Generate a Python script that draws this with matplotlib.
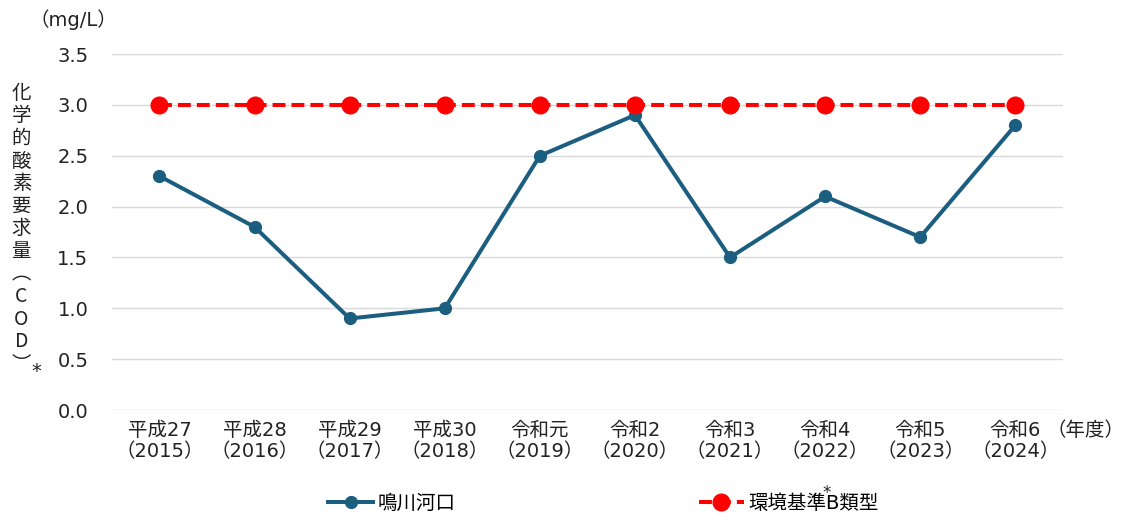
import numpy as np
import matplotlib
matplotlib.use('Agg')
import matplotlib.pyplot as plt

plt.rcParams['font.family'] = ['DejaVu Sans', 'Noto Sans CJK JP']

# data
years = ['平成27\n（2015）', '平成28\n（2016）', '平成29\n（2017）', '平成30\n（2018）', '令和元\n（2019）',
         '令和2\n（2020）', '令和3\n（2021）', '令和4\n（2022）', '令和5\n（2023）', '令和6\n（2024）']
naruto = [2.3, 1.8, 0.9, 1.0, 2.5, 2.9, 1.5, 2.1, 1.7, 2.8]
standard_b = [3.0, 3.0, 3.0, 3.0, 3.0, 3.0, 3.0, 3.0, 3.0, 3.0]
yticks = [0.0, 0.5, 1.0, 1.5, 2.0, 2.5, 3.0, 3.5]

fig = plt.figure(figsize=(11.24, 5.2), dpi=100)
ax = fig.add_axes([0.0996, 0.2115, 0.846, 0.6845])

x = np.arange(len(years))
ax.plot(x, naruto, color='#1b5e80', lw=2.9, marker='o', ms=8.5, label='鳴川河口', zorder=3)
ax.plot(x, standard_b, color='#ff0000', lw=2.9, ls=(0, (3.2, 1.5)), marker='o', ms=12,
        label='環境基準B類型', zorder=4)

ax.set_xlim(-0.5, len(years) - 0.5)
ax.set_ylim(0, 3.5)
ax.set_yticks(yticks)
ax.set_yticklabels(['%.1f' % v for v in yticks])
ax.set_xticks(x)
ax.set_xticklabels(years, linespacing=1.15)
ax.tick_params(axis='both', length=0, labelsize=14, colors='#222222')
ax.tick_params(axis='y', pad=17)
ax.tick_params(axis='x', pad=8)
ax.grid(axis='y', color='#d9d9d9', lw=1)
ax.set_axisbelow(True)
for s in ax.spines.values():
    s.set_visible(False)

# y label written vertically
ylab = '\n'.join(list('化学的酸素要求量')) + '\n︵\nC\nO\nD\n︶'
fig.text(0.019, 0.56, ylab, fontsize=14, ha='center', va='center', linespacing=1.1, color='#222222',
         family=['Noto Sans CJK JP', 'DejaVu Sans'])
fig.text(0.032, 0.285, '*', fontsize=14, ha='center', va='center', color='#222222')

fig.text(0.065, 0.963, '（mg/L）', fontsize=14, ha='center', va='center', color='#222222')
fig.text(1.0, 0.172, '（年度）', fontsize=14, ha='right', va='center', color='#222222')

leg = ax.legend(loc='center', bbox_to_anchor=(0.517, -0.262), ncol=2, frameon=False,
                fontsize=14, columnspacing=12.5, handlelength=2.3, handletextpad=0.25)

# star above the 準 of the second legend label
fig.canvas.draw()
r = fig.canvas.get_renderer()
t = leg.get_texts()[1]
bb = t.get_window_extent(r)
star_x = bb.x0 + bb.width * 0.60
fig.text(star_x / fig.bbox.width, (bb.y1 + 1) / fig.bbox.height, '*', fontsize=12,
         ha='center', va='center', color='#222222')

fig.savefig('out.png', dpi=100)
